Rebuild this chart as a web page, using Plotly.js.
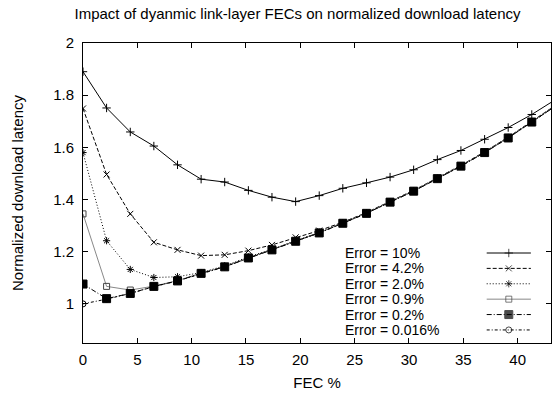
<!DOCTYPE html>
<html>
<head>
<meta charset="utf-8">
<script src="https://cdn.plot.ly/plotly-3.0.1.min.js"></script>
<style>html,body{margin:0;padding:0;background:#fff;}#chart{width:555px;height:395px;}</style>
</head>
<body>
<div id="chart"></div>
<script>
// FEC percentage (x values)
var fec = [0, 2.17, 4.35, 6.52, 8.70, 10.87, 13.04, 15.22, 17.39, 19.57, 21.74, 23.91, 26.09, 28.26, 30.43, 32.61, 34.78, 36.96, 39.13, 41.30, 43.48];

// Series labels
var seriesNames = ["Error = 10%", "Error = 4.2%", "Error = 2.0%", "Error = 0.9%", "Error = 0.2%", "Error = 0.016%"];

// Normalized download latency per series
var err10   = [1.890, 1.751, 1.659, 1.605, 1.533, 1.478, 1.467, 1.435, 1.409, 1.392, 1.415, 1.443, 1.464, 1.486, 1.514, 1.553, 1.588, 1.631, 1.676, 1.726, 1.783];
var err42   = [1.749, 1.496, 1.345, 1.236, 1.207, 1.185, 1.188, 1.204, 1.226, 1.255, 1.281, 1.313, 1.350, 1.393, 1.435, 1.483, 1.531, 1.583, 1.639, 1.700, 1.761];
var err20   = [1.580, 1.242, 1.132, 1.101, 1.104, 1.120, 1.146, 1.180, 1.210, 1.243, 1.275, 1.311, 1.349, 1.392, 1.434, 1.482, 1.530, 1.582, 1.638, 1.699, 1.760];
var err09   = [1.345, 1.067, 1.053, 1.068, 1.089, 1.118, 1.143, 1.177, 1.208, 1.241, 1.273, 1.310, 1.348, 1.391, 1.433, 1.481, 1.529, 1.581, 1.637, 1.698, 1.759];
var err02   = [1.076, 1.020, 1.040, 1.067, 1.088, 1.117, 1.142, 1.176, 1.207, 1.240, 1.272, 1.309, 1.347, 1.390, 1.432, 1.480, 1.528, 1.580, 1.636, 1.697, 1.758];
var err0016 = [1.000, 1.018, 1.040, 1.066, 1.088, 1.116, 1.142, 1.176, 1.207, 1.240, 1.272, 1.309, 1.347, 1.390, 1.432, 1.480, 1.528, 1.580, 1.636, 1.697, 1.758];

var seriesValues = [err10, err42, err20, err09, err02, err0016];

// styles
var styles = [
  {color: '#000', dash: 'solid', symbol: 'cross-thin-open', size: 6, mcolor: '#000'},
  {color: '#000', dash: '4px,2px', symbol: 'x-thin-open', size: 6, mcolor: '#000'},
  {color: '#000', dash: '1px,2px', symbol: 'asterisk-open', size: 6, mcolor: '#000'},
  {color: '#888', dash: 'solid', symbol: 'square-open', size: 6, mcolor: '#444'},
  {color: '#000', dash: '5px,2px,1px,2px', symbol: 'square', size: 8, mcolor: '#000'},
  {color: '#000', dash: '3px,2px,1px,2px', symbol: 'circle-open', size: 6, mcolor: '#000'}
];

var FONT = 'Liberation Sans, Arial, sans-serif';
var traces = [];
var annotations = [];

// custom legend layout (overlay axis 0..1 coordinates)
var legTextX = 0.556, legLineX0 = 0.8626, legLineX1 = 0.957, legRowTop = 0.300, legRowStep = 0.0513;

seriesValues.forEach(function (vals, i) {
  var s = styles[i];
  traces.push({
    x: fec, y: vals, type: 'scatter', mode: 'lines+markers', name: seriesNames[i],
    showlegend: false,
    line: {color: s.color, width: 1, dash: s.dash},
    marker: {symbol: s.symbol, size: s.size, color: s.mcolor, line: {color: s.mcolor, width: 1}}
  });
  var ly = legRowTop - i * legRowStep;
  traces.push({
    x: [legLineX0, (legLineX0 + legLineX1) / 2, legLineX1], y: [ly, ly, ly],
    xaxis: 'x2', yaxis: 'y2', type: 'scatter', mode: 'lines+markers', showlegend: false, hoverinfo: 'skip',
    line: {color: s.color, width: 1, dash: s.dash},
    marker: {symbol: s.symbol, size: [0, s.size, 0], color: s.mcolor, line: {color: s.mcolor, width: 1}}
  });
  annotations.push({
    xref: 'x2', yref: 'y2', x: legTextX, y: ly, xanchor: 'left', yanchor: 'middle',
    text: seriesNames[i], showarrow: false, font: {family: FONT, size: 14, color: '#000'}
  });
});

var layout = {
  width: 555, height: 395,
  margin: {l: 83, r: 4, t: 43, b: 52},
  paper_bgcolor: '#fff', plot_bgcolor: '#fff',
  showlegend: false,
  font: {family: FONT, size: 15, color: '#000'},
  title: {text: 'Impact of dyanmic link-layer FECs on normalized download latency',
          x: 297.5 / 555, xanchor: 'center', xref: 'container', y: 1 - 14 / 395, yanchor: 'middle', yref: 'container',
          font: {family: FONT, size: 15, color: '#000'}},
  xaxis: {
    range: [0, 43.07], dtick: 5, tick0: 0, ticks: 'inside', ticklen: 5, tickcolor: '#000',
    showline: true, linecolor: '#000', linewidth: 1, mirror: 'allticks', showgrid: false, zeroline: false,
    tickfont: {family: FONT, size: 15}, ticklabelstandoff: 3,
    title: {text: 'FEC %', font: {family: FONT, size: 15}, standoff: 10}
  },
  yaxis: {
    range: [0.85, 2.0], dtick: 0.2, tick0: 0, ticks: 'inside', ticklen: 5, tickcolor: '#000',
    showline: true, linecolor: '#000', linewidth: 1, mirror: 'allticks', showgrid: false, zeroline: false,
    tickfont: {family: FONT, size: 15}, ticklabelstandoff: 5,
    title: {text: 'Normalized download latency', font: {family: FONT, size: 15}, standoff: 25}
  },
  xaxis2: {overlaying: 'x', anchor: 'y2', range: [0, 1], visible: false, fixedrange: true},
  yaxis2: {overlaying: 'y', anchor: 'x2', range: [0, 1], visible: false, fixedrange: true},
  annotations: annotations
};

Plotly.newPlot('chart', traces, layout, {staticPlot: true});
</script>
</body>
</html>
